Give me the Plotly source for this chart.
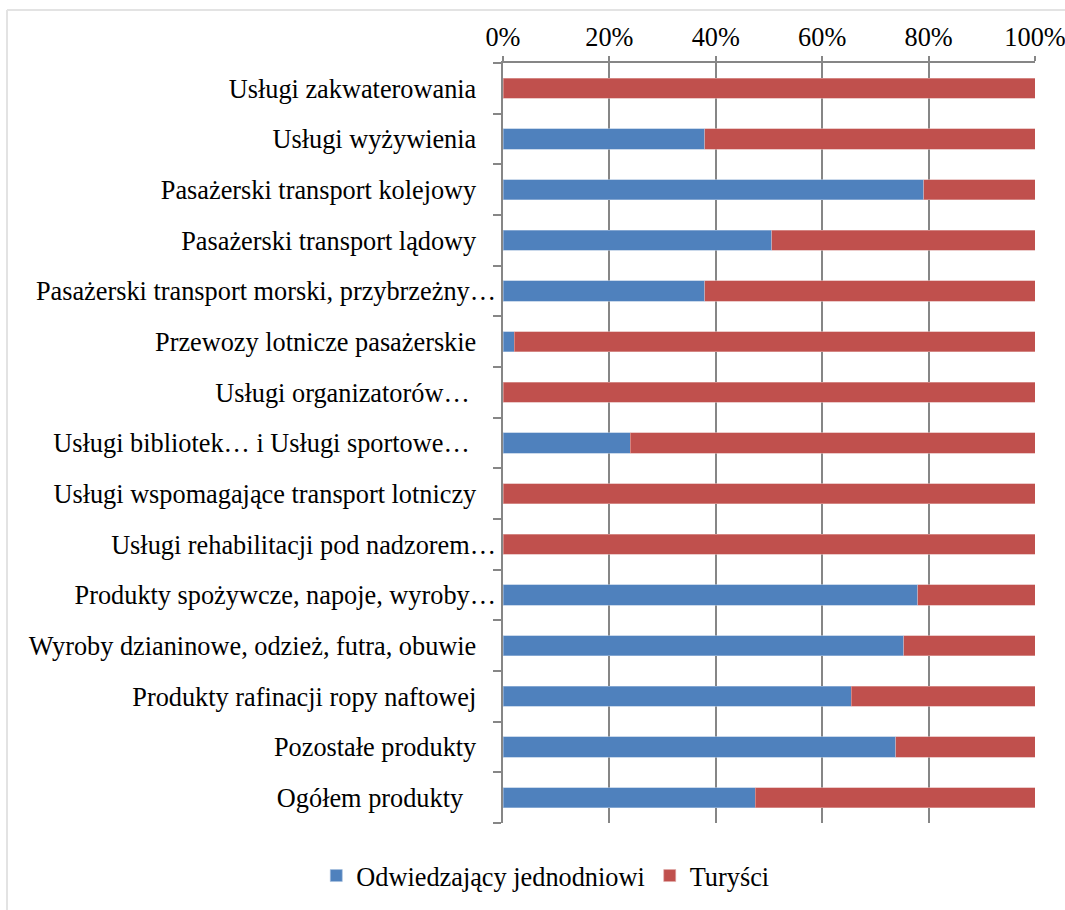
import plotly.graph_objects as go

categories = [
    "Usługi zakwaterowania",
    "Usługi wyżywienia",
    "Pasażerski transport kolejowy",
    "Pasażerski transport lądowy",
    "Pasażerski transport morski, przybrzeżny…",
    "Przewozy lotnicze pasażerskie",
    "Usługi organizatorów…",
    "Usługi bibliotek… i Usługi sportowe…",
    "Usługi wspomagające transport lotniczy",
    "Usługi rehabilitacji pod nadzorem…",
    "Produkty spożywcze, napoje, wyroby…",
    "Wyroby dzianinowe, odzież, futra, obuwie",
    "Produkty rafinacji ropy naftowej",
    "Pozostałe produkty",
    "Ogółem produkty",
]
# trailing padding (non-breaking spaces) per label, as in the original layout
label_pad = [3, 3, 3, 3, 0, 3, 4, 4, 3, 0, 0, 3, 3, 3, 5]

odwiedzajacy = [0.0, 37.9, 79.1, 50.5, 37.9, 2.1, 0.0, 23.9, 0.0, 0.0, 78.0, 75.3, 65.5, 73.8, 47.4]
turysci = [100.0, 62.1, 20.9, 49.5, 62.1, 97.9, 100.0, 76.1, 100.0, 100.0, 22.0, 24.7, 34.5, 26.2, 52.6]

x_ticks = [0, 20, 40, 60, 80, 100]

FONT = "Liberation Serif, Times New Roman, serif"
FS = 26.3

fig = go.Figure()
fig.add_trace(go.Bar(
    y=categories, x=odwiedzajacy, orientation="h", name="Odwiedzający jednodniowi",
    marker=dict(color="#4F81BD", line=dict(color="#A7BFDE", width=0.6)),
))
fig.add_trace(go.Bar(
    y=categories, x=turysci, orientation="h", name="Turyści",
    marker=dict(color="#C0504D", line=dict(color="#E0A9A7", width=0.6)),
))

ticktext = [c + "\u00a0" * p for c, p in zip(categories, label_pad)]

fig.update_layout(
    barmode="stack",
    bargap=0.6,
    width=1065, height=910,
    margin=dict(l=503, r=30, t=63, b=87, autoexpand=False),
    paper_bgcolor="white", plot_bgcolor="white",
    font=dict(family=FONT, size=FS, color="black"),
    xaxis=dict(
        side="top", range=[0, 100], tickvals=x_ticks,
        ticktext=[f"{v}%" for v in x_ticks],
        showgrid=True, gridcolor="#868686", gridwidth=1.5,
        showline=True, linecolor="#868686", linewidth=1.5,
        ticks="outside", ticklen=5, tickcolor="#868686", tickwidth=1.5,
        ticklabeloverflow="allow", ticklabelstandoff=0,
        zeroline=False, fixedrange=True,
    ),
    yaxis=dict(
        autorange="reversed", tickmode="array", tickvals=categories, ticktext=ticktext,
        tickson="boundaries", ticks="outside", ticklen=8, tickcolor="#868686", tickwidth=1.5,
        showline=True, linecolor="#868686", linewidth=1.5, showgrid=False,
        ticklabeloverflow="allow", fixedrange=True,
    ),
    legend=dict(
        orientation="h", xref="container", yref="container",
        x=0.512, y=0.0374, xanchor="center", yanchor="middle",
        font=dict(family=FONT, size=FS), traceorder="normal",
    ),
    shapes=[
        dict(type="line", xref="paper", yref="paper", x0=-496/532, x1=1.2, y0=1 + 53/760, y1=1 + 53/760,
             line=dict(color="#E3E3E3", width=2)),
        dict(type="line", xref="paper", yref="paper", x0=-496/532, x1=-496/532, y0=-0.2, y1=1 + 53/760,
             line=dict(color="#E3E3E3", width=2)),
    ],
)

fig.write_html(
    "out.html",
    config={"displayModeBar": False},
    post_script="document.body.style.margin='0';document.body.style.overflow='hidden';",
)
